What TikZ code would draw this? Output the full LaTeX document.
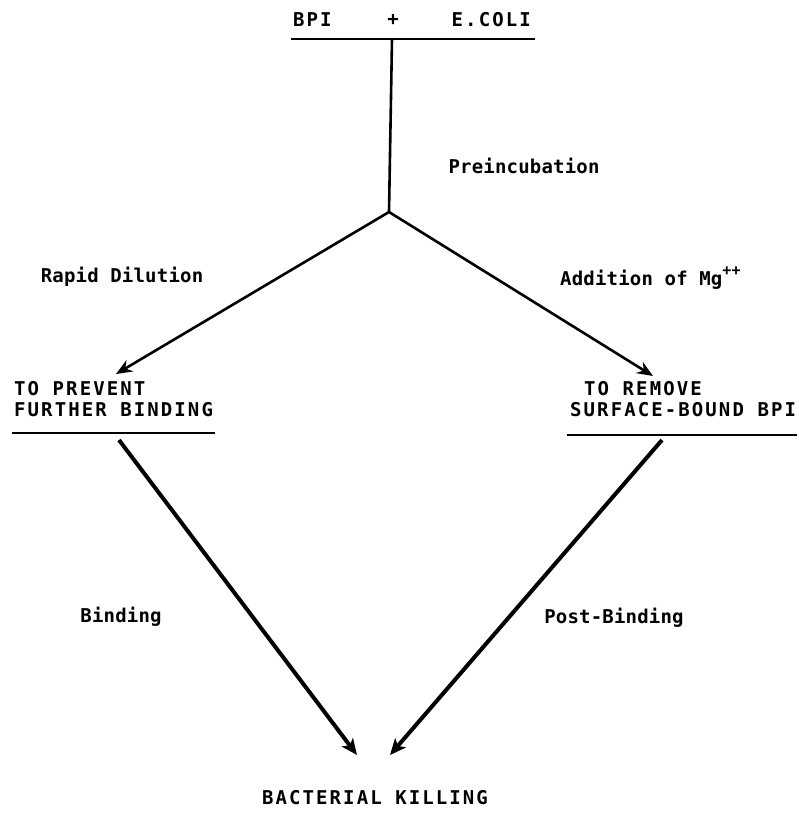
\documentclass[tikz,border=0pt]{standalone}
\usepackage{fontspec}
\usetikzlibrary{arrows.meta}
\newfontfamily\capsfont[LetterSpace=11]{DejaVu Sans Mono Bold}
\newfontfamily\lowfont[LetterSpace=1]{DejaVu Sans Mono Bold}
\begin{document}
\begin{tikzpicture}[x=1pt,y=-1pt,
  caps/.style={font=\capsfont\fontsize{19}{21}\selectfont,inner sep=0pt,align=left},
  low/.style={font=\lowfont\fontsize{19}{21}\selectfont,inner sep=0pt},
  rule/.style={line width=1.8pt},
  flow/.style={line width=2.6pt,-{Stealth[length=16pt,width=13pt]}},
  thick flow/.style={line width=4pt,-{Stealth[length=16pt,width=14pt,inset=4pt]}}]
\useasboundingbox (0,0) rectangle (798,816);
% top
\node[caps,anchor=west] (bpi) at (293,20) {BPI};
\node[caps] (plus) at (393,20) {+};
\node[caps,anchor=east] (ecoli) at (531,20) {E.COLI};
\coordinate (tl) at (291,39);
\coordinate (tr) at (535,39);
\draw[rule] (tl) -- (tr);
\coordinate (top) at (392,39);
\coordinate (j) at (389,212);
\draw[line width=2.6pt] (top) -- (j);
\node[low] (pre) at (524,166) {Preincubation};
% middle
\node[low] (rd) at (122,277) {Rapid Dilution};
\node[low,anchor=west] (add) at (560,278) {Addition of Mg\raisebox{1.0ex}{\fontsize{15}{15}\selectfont++}};
\coordinate (lt) at (116,374);
\coordinate (rt) at (653,376);
\draw[flow] (j) -- (lt);
\draw[flow] (j) -- (rt);
\node[caps,anchor=north west] (prev) at (14,381) {TO PREVENT\\FURTHER BINDING};
\node[caps,anchor=north west] (rem) at (570,381) {\hspace*{14pt}TO REMOVE\\SURFACE-BOUND BPI};
\coordinate (ll1) at (12,433);
\coordinate (ll2) at (215,433);
\coordinate (rl1) at (567,435);
\coordinate (rl2) at (797,435);
\draw[rule] (ll1) -- (ll2);
\draw[rule] (rl1) -- (rl2);
% bottom
\coordinate (ls) at (119,440);
\coordinate (rs) at (662,440);
\coordinate (le) at (357,755);
\coordinate (re) at (390,755);
\draw[thick flow] (ls) -- (le);
\draw[thick flow] (rs) -- (re);
\node[low] (bind) at (121,617) {Binding};
\node[low] (post) at (614,618) {Post-Binding};
\node[caps] (kill) at (375,798) {BACTERIAL KILLING};
\end{tikzpicture}
\end{document}
